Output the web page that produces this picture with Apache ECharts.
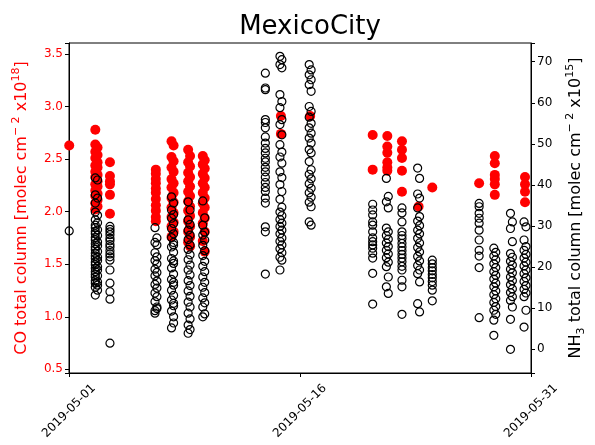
<!DOCTYPE html>
<html><head><meta charset="utf-8">
<script src="https://cdn.jsdelivr.net/npm/echarts@6/dist/echarts.min.js"></script>
</head><body style="margin:0;background:#fff">
<div id="c" style="width:595px;height:445px"></div>
<script>
const titleText = 'MexicoCity';
const startDate = '2019-05-01';
const xTickDays = [0, 15, 30];

const coTimes = ['2019-05-01 00:20','2019-05-02 17:00','2019-05-02 20:30','2019-05-03 15:50','2019-05-06 15:20',
  '2019-05-07 15:45','2019-05-07 19:00','2019-05-08 17:40','2019-05-08 20:40','2019-05-09 16:30','2019-05-09 19:30',
  '2019-05-14 18:15','2019-05-16 15:50','2019-05-20 17:15','2019-05-21 16:05','2019-05-22 14:55',
  '2019-05-23 16:50','2019-05-24 14:10','2019-05-27 15:10','2019-05-28 15:35','2019-05-30 14:40'];
const coValues = [
  [2.63],
  [2.78,2.64,2.57,2.51,2.44,2.38,2.33,2.26,2.20,2.15,2.08,2.02],
  [2.61,2.54,2.47,2.42,2.35,2.29,2.24,2.17,2.11,2.05],
  [2.47,2.34,2.29,2.26,2.16,1.98],
  [2.40,2.36,2.31,2.27,2.22,2.18,2.12,2.06,2.01,1.95,1.91],
  [2.67,2.52,2.42,2.31,2.23,2.13,2.04,1.95,1.86,1.76],
  [2.63,2.48,2.38,2.27,2.18,2.09,1.99,1.90,1.81],
  [2.59,2.47,2.37,2.29,2.19,2.10,2.01,1.91,1.81,1.71],
  [2.53,2.43,2.33,2.24,2.15,2.05,1.96,1.86,1.76,1.67],
  [2.53,2.45,2.36,2.27,2.18,2.08,1.99,1.89,1.72],
  [2.49,2.41,2.32,2.23,2.13,2.04,1.94,1.81,1.62],
  [2.91,2.74],
  [2.91],
  [2.73,2.40],
  [2.72,2.62,2.56,2.47,2.42,2.39],
  [2.67,2.59,2.51,2.39,2.19],
  [2.05],
  [2.23],
  [2.27],
  [2.53,2.46,2.35,2.31,2.26,2.16],
  [2.33,2.26,2.19,2.09]
];

const nh3Times = ['2019-05-01 00:20','2019-05-02 17:00','2019-05-02 20:30','2019-05-03 15:50',
  '2019-05-06 14:00','2019-05-06 17:00','2019-05-07 15:45','2019-05-07 19:00','2019-05-08 17:40','2019-05-08 20:40',
  '2019-05-09 16:30','2019-05-09 19:30','2019-05-13 18:00','2019-05-14 16:45','2019-05-14 19:45',
  '2019-05-16 14:20','2019-05-16 17:20','2019-05-20 17:15','2019-05-21 14:35','2019-05-21 17:35',
  '2019-05-22 14:55','2019-05-23 15:20','2019-05-23 18:20','2019-05-24 14:10','2019-05-27 15:10',
  '2019-05-28 14:05','2019-05-28 17:05','2019-05-29 16:00','2019-05-29 19:00','2019-05-30 13:10','2019-05-30 16:10'];
const nh3Values = [
  [28.8],
  [41.7,37.6,35.6,33.4,31.5,30.2,29.6,28.7,28.1,27.2,26.6,25.7,24.9,24.3,23.4,22.7,22.1,21.2,20.6,19.7,18.9,18.2,17.6,16.7,16.1,15.1,13.2],
  [41.2,36.8,32.6,30.8,29.1,27.7,26.1,25.2,23.8,22.4,21.6,20.1,19.3,17.9,16.4,15.6,14.4],
  [29.9,29.2,28.6,27.9,27.0,26.4,25.5,24.9,24.0,23.2,22.5,21.7,19.3,16.1,14.0,12.2,1.5],
  [29.6,26.0,23.5,21.6,19.5,17.9,15.8,13.7,11.6,9.4,8.8],
  [27.1,25.4,22.5,20.8,18.7,16.6,14.9,12.8,10.3,9.9],
  [37.1,33.9,31.9,29.4,27.2,24.9,22.1,19.8,17.0,14.4,12.0,9.3,5.2],
  [35.6,32.8,30.6,28.1,26.0,25.4,23.6,21.5,20.9,18.3,16.3,15.6,13.1,11.2,10.6,7.9,6.4],
  [35.9,31.5,29.0,26.7,24.3,21.8,19.3,16.7,14.2,11.5,8.8,5.9,3.9],
  [33.9,30.4,27.8,25.4,23.0,20.5,18.1,15.5,12.9,10.3,7.4,4.8],
  [36.1,30.2,27.8,25.3,22.8,20.2,17.6,15.1,12.5,10.3,7.9],
  [32.0,28.5,26.6,24.0,21.4,18.9,16.3,13.8,11.3,8.6],
  [67.2,63.6,63.2,55.9,55.2,53.9,51.7,50.2,48.9,47.8,46.5,45.6,44.3,43.2,41.9,40.6,39.4,38.4,36.8,35.6,29.8,28.6,18.3],
  [71.3,69.3,62.0,58.8,54.7,49.8,46.8,43.2,40.1,36.5,33.4,31.6,29.9,28.1,26.3,24.5,22.4,19.3],
  [70.5,68.5,60.3,55.9,52.2,48.0,45.3,41.8,38.4,34.6,32.5,30.7,29.0,27.1,25.4,23.5,21.7],
  [69.3,66.8,64.4,59.1,56.5,53.9,51.4,48.6,45.7,42.6,40.3,38.1,35.8,31.0],
  [68.0,65.6,62.8,57.9,55.0,52.6,50.2,47.8,43.7,41.5,39.2,37.0,34.7,30.2],
  [35.3,33.9,32.7,31.0,30.2,28.6,27.1,26.2,25.4,24.6,23.4,22.2,18.5,11.0],
  [41.6,35.9,29.5,27.7,25.9,24.1,22.3,20.1,15.2],
  [37.2,34.4,28.6,26.8,25.0,23.2,21.2,17.6,13.6],
  [34.4,33.2,31.0,28.6,27.7,26.9,25.8,24.9,24.0,23.1,22.2,21.3,20.2,19.3,16.8,15.2,8.5],
  [44.1,37.8,34.4,31.2,29.0,27.0,24.8,22.6,20.4,18.4,11.1],
  [41.6,36.8,32.3,30.1,28.1,25.9,23.7,21.5,19.3,16.4,9.1],
  [21.7,20.8,19.9,19.1,18.2,17.4,16.5,15.6,14.4,11.8],
  [35.5,34.7,33.1,31.9,30.7,29.0,26.6,24.1,22.7,19.9,7.7],
  [24.6,22.7,20.8,18.9,17.1,15.2,13.3,11.4,9.5,7.1,3.4],
  [23.6,21.8,19.9,18.0,16.1,14.2,12.3,10.4,8.5],
  [33.1,29.4,23.3,21.4,19.5,17.6,15.7,13.8,11.9,7.3,0.0],
  [31.0,26.2,22.4,20.5,18.6,16.7,14.7,12.8,10.3],
  [31.0,26.6,24.1,22.2,20.3,18.4,16.5,14.6,12.8,5.4],
  [29.8,25.0,23.1,21.2,19.3,17.4,15.5,13.7,9.5]
];

const t0 = Date.parse(startDate + 'T00:00:00Z');
const toDay = s => (Date.parse(s.replace(' ', 'T') + ':00Z') - t0) / 86400000;
const dayLabel = d => new Date(t0 + d * 86400000).toISOString().slice(0, 10);

const coData = [];
coTimes.forEach((t, i) => coValues[i].forEach(v => coData.push([toDay(t), v])));
const nh3Data = [];
nh3Times.forEach((t, i) => nh3Values[i].forEach(v => nh3Data.push([toDay(t), v])));

const FONT = 'DejaVu Sans';
const chart = echarts.init(document.getElementById('c'), null, {renderer: 'canvas'});
chart.setOption({
  animation: false,
  backgroundColor: '#fff',
  textStyle: {fontFamily: FONT},
  title: {
    text: titleText, left: 305, top: 9, textAlign: 'center',
    textStyle: {fontFamily: FONT, fontSize: 26, fontWeight: 'normal', color: '#000'}
  },
  grid: {left: 69, right: 53, top: 43, bottom: 72, show: true, borderColor: '#000', borderWidth: 1},
  xAxis: {
    type: 'value', min: xTickDays[0], max: xTickDays[2], interval: xTickDays[1] - xTickDays[0],
    axisLine: {show: true, onZero: false, lineStyle: {color: '#000', width: 1}},
    axisTick: {show: true, length: 4, lineStyle: {color: '#000'}},
    splitLine: {show: false},
    axisLabel: {
      formatter: v => dayLabel(v), rotate: 45, align: 'center', verticalAlign: 'middle',
      margin: 38, fontSize: 12, color: '#000', fontFamily: FONT
    }
  },
  yAxis: [
    {
      type: 'value', min: 0.465, max: 3.605, splitNumber: 6, position: 'left',
      axisLine: {show: true, lineStyle: {color: '#000', width: 1}},
      axisTick: {show: true, length: 4, lineStyle: {color: '#000'}},
      splitLine: {show: false},
      axisLabel: {
        color: 'red', fontSize: 12, fontFamily: FONT, margin: 6,
        formatter: v => Math.abs(v * 2 - Math.round(v * 2)) < 1e-6 ? v.toFixed(1) : ''
      },
      name: '{a|CO total column [molec cm}{s|− 2}{a| x10}{s|18}{a|]}',
      nameLocation: 'middle', nameRotate: 90, nameGap: 36,
      nameTextStyle: {
        rich: {
          a: {fontSize: 16, color: 'red', fontFamily: FONT, lineHeight: 22},
          s: {fontSize: 11, color: 'red', fontFamily: FONT, lineHeight: 10, verticalAlign: 'top'}
        }
      }
    },
    {
      type: 'value', min: -5.77, max: 74.55, splitNumber: 8, position: 'right',
      axisLine: {show: true, lineStyle: {color: '#000', width: 1}},
      axisTick: {show: true, length: 4, lineStyle: {color: '#000'}},
      splitLine: {show: false},
      axisLabel: {
        color: '#000', fontSize: 12, fontFamily: FONT, margin: 6,
        formatter: v => Math.abs(v / 10 - Math.round(v / 10)) < 1e-6 ? String(Math.round(v)) : ''
      },
      name: '{a|NH}{b|3}{a| total column [molec cm}{s|− 2}{a| x10}{s|15}{a|]}',
      nameLocation: 'middle', nameRotate: 90, nameGap: 34,
      nameTextStyle: {
        rich: {
          a: {fontSize: 16, color: '#000', fontFamily: FONT, lineHeight: 22},
          b: {fontSize: 11, color: '#000', fontFamily: FONT, lineHeight: 16, verticalAlign: 'bottom'},
          s: {fontSize: 11, color: '#000', fontFamily: FONT, lineHeight: 10, verticalAlign: 'top'}
        }
      }
    }
  ],
  series: [
    {
      type: 'scatter', yAxisIndex: 0, data: coData, symbol: 'circle', symbolSize: 10,
      itemStyle: {color: '#ff0000', opacity: 1}, emphasis: {disabled: true}
    },
    {
      type: 'scatter', yAxisIndex: 1, data: nh3Data, symbol: 'circle', symbolSize: 8,
      itemStyle: {color: 'rgba(0,0,0,0)', borderColor: '#000', borderWidth: 1.2, opacity: 1},
      emphasis: {disabled: true}
    }
  ]
});
</script>
</body></html>
